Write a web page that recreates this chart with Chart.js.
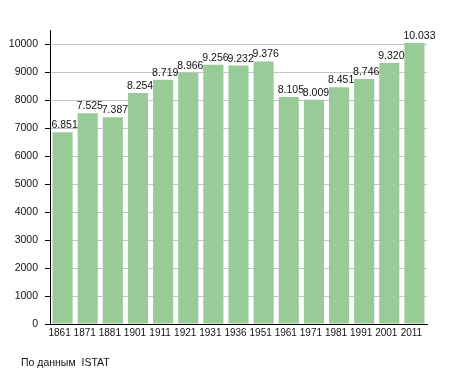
<!DOCTYPE html>
<html>
<head>
<meta charset="utf-8">
<script src="https://cdn.jsdelivr.net/npm/chart.js@4/dist/chart.umd.min.js"></script>
<style>
    html, body { margin: 0; padding: 0; background: #fff; }
    #wrap { position: relative; width: 455px; height: 373px; }
    #caption {
        position: absolute; left: 21px; top: 356px;
        font: 10.5px "Liberation Sans", Arial, sans-serif; color: #111;
        white-space: pre;
    }
</style>
</head>
<body>
<div id="wrap">
    <canvas id="chartCanvas" width="455" height="373"></canvas>
    <div id="caption">По данным  ISTAT</div>
</div>
<script>
const years = ['1861', '1871', '1881', '1901', '1911', '1921', '1931', '1936',
    '1951', '1961', '1971', '1981', '1991', '2001', '2011'];
const population = [6851, 7525, 7387, 8254, 8719, 8966, 9256, 9232,
    9376, 8105, 8009, 8451, 8746, 9320, 10033];

const fmt = v => String(v).replace(/\B(?=(\d{3})+(?!\d))/g, '.');

// value labels, left aligned on the bar's left edge
const valueLabels = {
    id: 'valueLabels',
    afterDatasetsDraw(chart) {
        const ctx = chart.ctx;
        const meta = chart.getDatasetMeta(0);
        ctx.save();
        ctx.font = '10.5px "Liberation Sans", Arial, sans-serif';
        ctx.fillStyle = '#111';
        ctx.textAlign = 'left';
        ctx.textBaseline = 'alphabetic';
        meta.data.forEach((bar, i) => {
            const left = bar.x - bar.width / 2 - 1;
            ctx.fillText(fmt(population[i]), left, bar.y - 4);
        });
        ctx.restore();
    }
};

new Chart(document.getElementById('chartCanvas'), {
    type: 'bar',
    data: {
        labels: years,
        datasets: [{
            data: population,
            backgroundColor: '#98cb98',
            borderWidth: 0,
            barPercentage: 0.8,
            categoryPercentage: 1
        }]
    },
    options: {
        responsive: false,
        animation: false,
        layout: { padding: { top: 30, right: 28, bottom: 27, left: 0 } },
        plugins: {
            legend: { display: false },
            tooltip: { enabled: false }
        },
        scales: {
            x: {
                grid: { display: false, drawTicks: false },
                border: { color: '#000', width: 1 },
                ticks: {
                    color: '#111',
                    padding: 3,
                    labelOffset: -3,
                    maxRotation: 0,
                    autoSkip: false,
                    font: { family: '"Liberation Sans", Arial, sans-serif', size: 10 }
                },
                afterFit: s => { s.height = 22; }
            },
            y: {
                min: 0,
                max: 10500,
                border: { color: '#000', width: 1 },
                grid: {
                    color: c => (c.tick && c.tick.value % 1000 === 0 && c.tick.value > 0) ? '#c4c4c4' : '#f0f0f0',
                    tickColor: c => (c.tick && c.tick.value === 10500) ? 'rgba(0,0,0,0)' : '#000',
                    tickLength: 5
                },
                ticks: {
                    stepSize: 500,
                    color: '#111',
                    padding: 7,
                    font: { family: '"Liberation Sans", Arial, sans-serif', size: 10.5 },
                    callback: v => (v % 1000 === 0 ? String(v) : '')
                },
                afterFit: s => { s.width = 50; }
            }
        }
    },
    plugins: [valueLabels]
});
</script>
</body>
</html>
